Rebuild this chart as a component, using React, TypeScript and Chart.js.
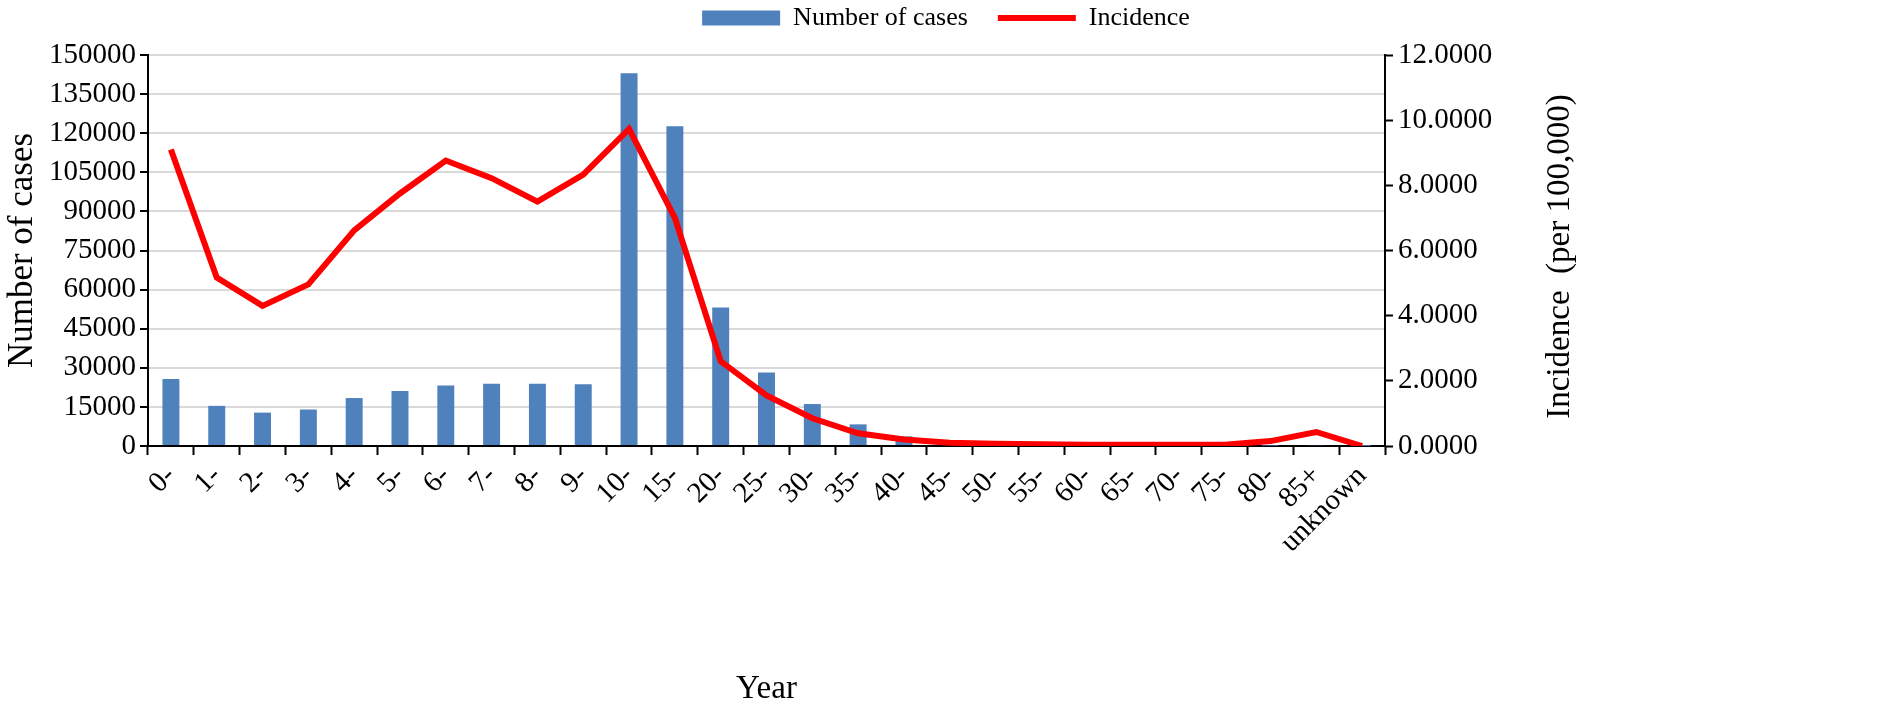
import { useEffect, useRef } from "react";
import Chart from "chart.js/auto";

const ageGroups = [
  "0-", "1-", "2-", "3-", "4-", "5-", "6-", "7-", "8-", "9-",
  "10-", "15-", "20-", "25-", "30-", "35-", "40-", "45-", "50-", "55-",
  "60-", "65-", "70-", "75-", "80-", "85+", "unknown",
];

// Number of cases (left axis)
const caseCounts = [
  25700, 15400, 12800, 14000, 18400, 21100, 23200, 23900, 23900, 23700,
  143000, 122700, 53100, 28200, 16100, 8300, 3700, 1200, 700, 400,
  300, 250, 200, 150, 150, 300, 60,
];

// Incidence per 100,000 (right axis)
const incidence = [
  9.1, 5.17, 4.3, 4.96, 6.62, 7.75, 8.76, 8.22, 7.5, 8.33,
  9.73, 7.0, 2.6, 1.55, 0.85, 0.39, 0.2, 0.1, 0.07, 0.05,
  0.04, 0.04, 0.04, 0.04, 0.15, 0.43, 0.0,
];

const FONT = "'Liberation Serif', 'Times New Roman', serif";
Chart.defaults.font.family = FONT;
Chart.defaults.color = "#000";

const TICK_FONT = { size: 29, family: FONT };
const LEGEND_FONT = { size: 26, family: FONT };

// right axis title, reading bottom-to-top like the left one
const rightTitlePlugin = {
  id: "rightTitle",
  afterDraw(chart: any) {
    const { ctx, chartArea } = chart;
    ctx.save();
    ctx.translate(chartArea.right + 175, (chartArea.top + chartArea.bottom) / 2 + 6);
    ctx.rotate(-Math.PI / 2);
    ctx.font = `33px ${FONT}`;
    ctx.fillStyle = "#000";
    ctx.textAlign = "center";
    ctx.textBaseline = "middle";
    ctx.fillText("Incidence  (per 100,000)", 0, 0);
    ctx.restore();
  },
};

// put the legend where it sits in the original figure
const legendShiftPlugin = {
  id: "legendShift",
  afterLayout(chart: any) {
    const l = chart.legend;
    if (!l) return;
    const shift = 946 - (l.left + l.right) / 2;
    l.left += shift;
    l.right += shift;
    l.top = -25;
  },
};

const App = () => {
  const chartRef = useRef<HTMLCanvasElement | null>(null);
  const chartInstance = useRef<Chart | null>(null);

  useEffect(() => {
    if (!chartRef.current) return;
    if (chartInstance.current) chartInstance.current.destroy();

    const ctx = chartRef.current.getContext("2d");
    if (!ctx) return;

    chartInstance.current = new Chart(ctx, {
      type: "bar",
      data: {
        labels: ageGroups,
        datasets: [
          {
            type: "bar",
            label: "Number of cases",
            data: caseCounts,
            backgroundColor: "#4f81bd",
            borderWidth: 0,
            yAxisID: "y",
            categoryPercentage: 1,
            barPercentage: 0.37,
            order: 2,
          },
          {
            type: "line",
            label: "Incidence",
            data: incidence,
            borderColor: "#ff0000",
            backgroundColor: "#ff0000",
            borderWidth: 6,
            pointRadius: 0,
            tension: 0,
            fill: false,
            yAxisID: "y1",
            order: 1,
          },
        ],
      },
      options: {
        animation: false,
        responsive: true,
        maintainAspectRatio: false,
        layout: { padding: { left: 0, right: 312, top: 0, bottom: 0 } },
        plugins: {
          tooltip: { enabled: false },
          legend: {
            position: "top",
            maxHeight: 55,
            labels: {
              usePointStyle: true,
              pointStyleWidth: 78,
              boxHeight: 15,
              padding: 30,
              font: LEGEND_FONT,
              color: "#000",
              generateLabels: (chart: any) =>
                Chart.defaults.plugins.legend.labels
                  .generateLabels(chart)
                  .map((item: any) => ({
                    ...item,
                    pointStyle: item.datasetIndex === 0 ? "rect" : "line",
                  }))
                  .sort((a: any, b: any) => a.datasetIndex - b.datasetIndex),
            },
          },
        },
        scales: {
          x: {
            offset: true,
            grid: {
              offset: true,
              drawOnChartArea: false,
              drawTicks: true,
              tickLength: 9,
              tickColor: "#000",
              tickWidth: 2,
            },
            border: { color: "#000", width: 2 },
            ticks: {
              autoSkip: false,
              maxRotation: 45,
              minRotation: 45,
              font: TICK_FONT,
              color: "#000",
              padding: 4,
            },
            title: {
              display: true,
              text: "Year",
              font: { size: 33, family: FONT },
              color: "#000",
              padding: { top: 0, bottom: 19 },
            },
            afterFit: (scale: any) => {
              scale.height = 282;
            },
          },
          y: {
            position: "left",
            min: 0,
            max: 150000,
            ticks: {
              stepSize: 15000,
              font: TICK_FONT,
              color: "#000",
              padding: 4,
              callback: (v: any) => String(v),
            },
            grid: {
              color: "#d9d9d9",
              lineWidth: 2,
              tickColor: "#000",
              tickWidth: 2,
              tickLength: 8,
            },
            border: { color: "#000", width: 2 },
            title: {
              display: true,
              text: "Number of cases",
              font: { size: 35, family: FONT },
              color: "#000",
              padding: { top: 2, bottom: 0 },
            },
            afterFit: (scale: any) => {
              scale.width = 148;
            },
          },
          y1: {
            position: "right",
            min: 0,
            max: 12,
            ticks: {
              stepSize: 2,
              font: TICK_FONT,
              color: "#000",
              padding: 5,
              callback: (v: any) => Number(v).toFixed(4),
            },
            grid: {
              drawOnChartArea: false,
              tickColor: "#000",
              tickWidth: 2,
              tickLength: 8,
            },
            border: { color: "#000", width: 2 },
            afterFit: (scale: any) => {
              scale.width = 205;
            },
          },
        },
      },
      plugins: [rightTitlePlugin, legendShiftPlugin],
    });

    return () => {
      if (chartInstance.current) {
        chartInstance.current.destroy();
        chartInstance.current = null;
      }
    };
  }, []);

  return (
    <div
      style={{
        position: "absolute",
        left: 0,
        top: 0,
        width: 1902,
        height: 728,
        background: "#fff",
      }}
    >
      <canvas ref={chartRef} />
    </div>
  );
};

export default App;
